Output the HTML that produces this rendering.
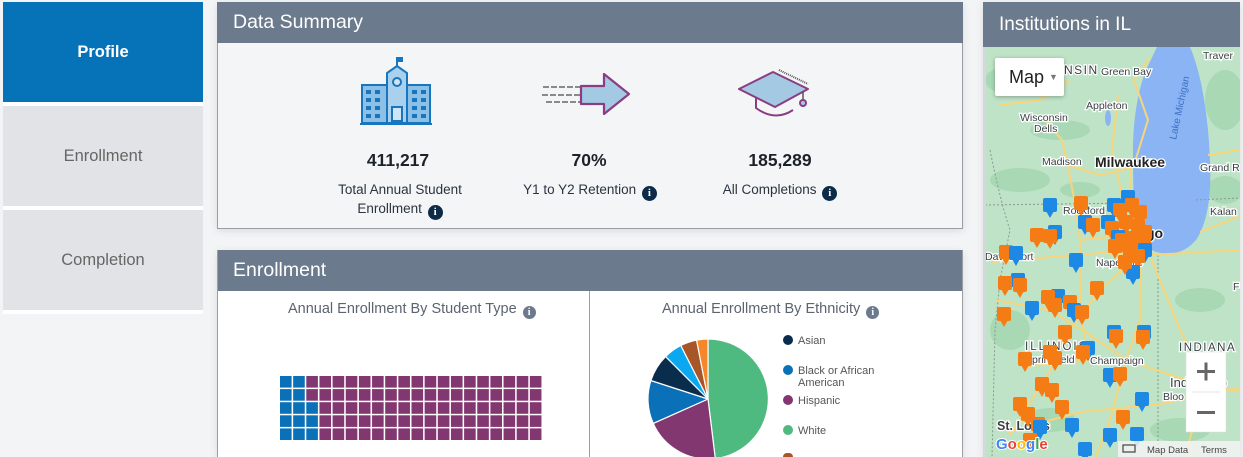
<!DOCTYPE html>
<html><head><meta charset="utf-8">
<style>
*{margin:0;padding:0;box-sizing:border-box}
html,body{width:1243px;height:457px;overflow:hidden;background:#f3f4f6;font-family:"Liberation Sans",sans-serif;position:relative}
.nav{position:absolute;left:3px;width:200px;height:100px;display:flex;align-items:center;justify-content:center;font-size:16.5px}
.panel{position:absolute;box-shadow:0 2px 8px rgba(0,0,0,0.10);overflow:hidden}
.hdr{background:#6b7a8c;color:#fff;font-size:19.5px;padding-left:16px;display:flex;align-items:center}
.num{position:absolute;font-size:17.5px;font-weight:bold;color:#1d2228;text-align:center;width:200px;margin-left:-100px}
.lbl{position:absolute;font-size:13.5px;color:#2b3440;text-align:center;width:200px;margin-left:-100px;line-height:19px}
.info{display:inline-block;width:15px;height:15px;border-radius:50%;background:#0d2b48;color:#fff;font-size:11px;font-weight:bold;line-height:15px;text-align:center;vertical-align:-2px;font-family:"Liberation Serif",serif;margin-left:2px}
.info.g{background:#6b7a8c;width:13px;height:13px;line-height:13px;font-size:10px}
.ctitle{position:absolute;font-size:14.5px;color:#5c6470;text-align:center}
.leg{position:absolute;font-size:11px;color:#555;line-height:12px}
.dot{position:absolute;width:10px;height:10px;border-radius:50%}
</style></head><body>

<!-- left nav -->
<div class="nav" style="top:2px;background:#0672b8;color:#fff;font-weight:bold">Profile</div>
<div style="position:absolute;left:3px;top:102px;width:200px;height:4px;background:#fff"></div>
<div class="nav" style="top:106px;background:#e1e3e6;color:#666">Enrollment</div>
<div style="position:absolute;left:3px;top:206px;width:200px;height:4px;background:#fff"></div>
<div class="nav" style="top:210px;background:#e1e3e6;color:#666">Completion</div>
<div style="position:absolute;left:3px;top:310px;width:200px;height:4px;background:#fff"></div>

<!-- Data summary -->
<div class="panel" style="left:217px;top:2px;width:746px;height:227px;background:#f4f5f7;border:1px solid #9a9ea4;border-top:none;overflow:visible">
  <div class="hdr" style="height:41px;margin-left:-1px;margin-right:-1px">Data Summary</div>
</div>
<svg style="position:absolute;left:0;top:0" width="963" height="230" viewBox="0 0 963 230">
  <!-- building -->
  <g stroke="#1776bd" stroke-width="2" fill="#9ccbea">
    <rect x="362" y="85" width="25" height="38" fill="#8cc0e6"/>
    <rect x="407" y="85" width="23" height="38" fill="#8cc0e6"/>
    <path d="M387,123 V73 L397,66 L407,73 V123 Z" fill="#a9d0ec"/>
    <circle cx="397" cy="82" r="4" fill="#cfe5f5"/>
    <rect x="392" y="107" width="10" height="14" fill="#cfe5f5"/>
    <line x1="360" y1="124" x2="432" y2="124"/>
  </g>
  <line x1="397" y1="66" x2="397" y2="57" stroke="#1776bd" stroke-width="2"/>
  <rect x="397" y="57" width="6" height="5" fill="#1776bd"/>
  <g fill="#1776bd">
    <rect x="366" y="90" width="5" height="4"/><rect x="375" y="90" width="5" height="4"/>
    <rect x="366" y="98" width="5" height="4"/><rect x="375" y="98" width="5" height="4"/>
    <rect x="366" y="106" width="5" height="4"/><rect x="375" y="106" width="5" height="4"/>
    <rect x="366" y="114" width="5" height="4"/><rect x="375" y="114" width="5" height="4"/>
    <rect x="412" y="90" width="5" height="4"/><rect x="421" y="90" width="5" height="4"/>
    <rect x="412" y="98" width="5" height="4"/><rect x="421" y="98" width="5" height="4"/>
    <rect x="412" y="106" width="5" height="4"/><rect x="421" y="106" width="5" height="4"/>
    <rect x="412" y="114" width="5" height="4"/><rect x="421" y="114" width="5" height="4"/>
  </g>
  <!-- arrow -->
  <g stroke="#666" stroke-width="1.6" stroke-dasharray="6,2">
    <line x1="543" y1="87" x2="580" y2="87"/>
    <line x1="542" y1="95" x2="580" y2="95"/>
    <line x1="546" y1="102" x2="580" y2="102"/>
  </g>
  <path d="M581,86 H604 V74 L629,94 L604,114 V104 H581 Z" fill="#a3c9e3" stroke="#8a3d82" stroke-width="2.2" stroke-linejoin="round"/>
  <!-- cap -->
  <line x1="779" y1="70" x2="808" y2="84" stroke="#555" stroke-width="2" stroke-dasharray="1,1"/>
  <path d="M756,97 V108 Q775,122 793,110" fill="none" stroke="#8a3d82" stroke-width="2"/>
  <path d="M739,89 L773,72 L808,89 L775,107 Z" fill="#a3c9e3" stroke="#8a3d82" stroke-width="2" stroke-linejoin="round"/>
  <line x1="803" y1="91" x2="803" y2="100" stroke="#555" stroke-width="1.5"/>
  <circle cx="803" cy="103" r="3" fill="#a3c9e3" stroke="#8a3d82" stroke-width="2"/>
</svg>
<div class="num" style="left:398px;top:150px">411,217</div>
<div class="lbl" style="left:400px;top:180px">Total Annual Student<br>Enrollment <span class="info">i</span></div>
<div class="num" style="left:589px;top:150px">70%</div>
<div class="lbl" style="left:590px;top:180px">Y1 to Y2 Retention <span class="info">i</span></div>
<div class="num" style="left:780px;top:150px">185,289</div>
<div class="lbl" style="left:780px;top:180px">All Completions <span class="info">i</span></div>

<!-- Enrollment -->
<div class="panel" style="left:217px;top:250px;width:746px;height:207px;background:#fff;border-left:1px solid #9a9ea4;border-right:1px solid #9a9ea4">
  <div class="hdr" style="height:41px;margin-left:-1px;margin-right:-1px">Enrollment</div>
</div>
<div style="position:absolute;left:589px;top:291px;width:1px;height:166px;background:#9a9ea4"></div>
<div class="ctitle" style="left:288px;top:301px;width:290px;text-align:left">Annual Enrollment By Student Type <span class="info g">i</span></div>
<div class="ctitle" style="left:662px;top:301px;width:240px;text-align:left">Annual Enrollment By Ethnicity <span class="info g">i</span></div>

<svg style="position:absolute;left:0;top:0" width="963" height="457" viewBox="0 0 963 457">
  <g id="waffle"></g>
  <!-- pie -->
  <g stroke="#fff" stroke-width="1.2" stroke-linejoin="round">
    <path d="M708,399 L708,339 A60,60 0 0 1 715.3,458.6 Z" fill="#4fba80"/>
    <path d="M708,399 L715.3,458.6 A60,60 0 0 1 653.2,423.4 Z" fill="#833771"/>
    <path d="M708,399 L653.2,423.4 A60,60 0 0 1 650.9,380.5 Z" fill="#0a71b8"/>
    <path d="M708,399 L650.9,380.5 A60,60 0 0 1 665.6,356.6 Z" fill="#0b2d4d"/>
    <path d="M708,399 L665.6,356.6 A60,60 0 0 1 680.8,345.5 Z" fill="#0aa8f0"/>
    <path d="M708,399 L680.8,345.5 A60,60 0 0 1 696.6,340.1 Z" fill="#a65628"/>
    <path d="M708,399 L696.6,340.1 A60,60 0 0 1 708,339 Z" fill="#f5862a"/>
  </g>
</svg>
<div class="dot" style="left:783px;top:335px;background:#0b2d4d"></div>
<div class="leg" style="left:798px;top:335px">Asian</div>
<div class="dot" style="left:783px;top:365px;background:#0a71b8"></div>
<div class="leg" style="left:798px;top:365px">Black or African<br>American</div>
<div class="dot" style="left:783px;top:395px;background:#833771"></div>
<div class="leg" style="left:798px;top:395px">Hispanic</div>
<div class="dot" style="left:783px;top:425px;background:#4fba80"></div>
<div class="leg" style="left:798px;top:425px">White</div>
<div style="position:absolute;left:783px;top:453px;width:10px;height:4px;border-radius:5px 5px 0 0;background:#a65628"></div>

<!-- Map panel -->
<div class="panel" style="left:983px;top:2px;width:257px;height:455px;background:#bfe3c7">
  <div class="hdr" style="height:45px;font-size:19px">Institutions in IL</div>
</div>
<svg style="position:absolute;left:983px;top:47px" width="257" height="410" viewBox="983 47 257 410">
  <defs>
    <g id="po"><rect x="-7" y="-7" width="14" height="14" rx="2" fill="#f57c14"/><polygon points="-4,6 4,6 0,13" fill="#f57c14"/></g>
    <g id="pb"><rect x="-7" y="-7" width="14" height="14" rx="2" fill="#1e88e5"/><polygon points="-4,6 4,6 0,13" fill="#1e88e5"/></g>
  </defs>
  <rect x="983" y="47" width="257" height="410" fill="#bfe3c7"/>
  <g fill="#a9d8b4">
    <ellipse cx="1010" cy="80" rx="25" ry="14"/>
    <ellipse cx="1060" cy="130" rx="30" ry="10"/>
    <ellipse cx="1020" cy="180" rx="30" ry="12"/>
    <ellipse cx="1080" cy="190" rx="20" ry="8"/>
    <ellipse cx="1225" cy="100" rx="20" ry="30"/>
    <ellipse cx="1225" cy="190" rx="18" ry="14"/>
    <ellipse cx="1010" cy="330" rx="20" ry="20"/>
    <ellipse cx="1200" cy="300" rx="25" ry="12"/>
    <ellipse cx="1050" cy="420" rx="25" ry="12"/>
    <ellipse cx="1180" cy="430" rx="30" ry="12"/>
  </g>
  <!-- lake -->
  <path d="M1157,47 L1190,47 C1200,70 1208,110 1210,160 C1212,200 1206,225 1196,240 C1186,252 1172,256 1156,252 C1146,248 1139,240 1136,225 C1133,200 1133,170 1133,150 C1133,120 1138,90 1146,70 Z" fill="#8ab4f4"/>
  <ellipse cx="1108" cy="118" rx="3" ry="8" fill="#8ab4f4"/>
  <!-- borders -->
  <g stroke="#8a9a90" stroke-width="1" stroke-dasharray="2,2" fill="none">
    <path d="M985,205 L1133,203"/>
    <path d="M1158,255 L1158,457"/>
    <path d="M1196,200 L1240,198"/>
    <path d="M990,150 Q1000,200 1010,230 L1000,280 L995,330 L992,457"/>
  </g>
  <!-- roads -->
  <g stroke="#f6d57b" stroke-width="2" fill="none" stroke-linejoin="round">
    <path d="M1131,165 L1131,200 L1142,245"/>
    <path d="M1068,165 L1100,175 L1131,168"/>
    <path d="M1150,58 L1134,80 L1148,120 L1133,168"/>
    <path d="M1118,95 L1112,150 L1122,195"/>
    <path d="M1045,120 L1062,140 L1068,165"/>
    <path d="M1068,165 L1076,210 L1080,240"/>
    <path d="M1080,240 L1118,236 L1145,242"/>
    <path d="M992,262 L1050,257 L1100,253 L1150,255 L1240,250"/>
    <path d="M1080,240 L1080,300 L1085,340"/>
    <path d="M1145,250 L1100,290 L1062,340 L1055,362 L1032,400 L1010,435"/>
    <path d="M1140,250 L1140,320 L1126,360 L1110,420 L1096,457"/>
    <path d="M995,300 L1050,310 L1090,335 L1126,360 L1180,378 L1240,392"/>
    <path d="M1028,366 L1090,360"/>
    <path d="M1008,432 L1080,412 L1160,404 L1240,388"/>
    <path d="M1150,255 L1180,330 L1205,380"/>
    <path d="M1208,155 L1240,150"/>
    <path d="M1200,232 L1240,216"/>
    <path d="M1185,457 L1195,420 L1205,380"/>
    <path d="M1000,105 L1040,100 L1070,80"/>
  </g>
  <!-- labels -->
  <g font-family="Liberation Sans,sans-serif" fill="#3a3f44" stroke="#fff" stroke-width="2.5" paint-order="stroke" font-size="10.5">
    <text x="1064" y="74" font-size="12" letter-spacing="1.5">NSIN</text>
    <text x="1101" y="75">Green Bay</text>
    <text x="1086" y="109">Appleton</text>
    <text x="1020" y="121">Wisconsin</text>
    <text x="1034" y="132">Dells</text>
    <text x="1042" y="165">Madison</text>
    <text x="1095" y="167" font-size="14" font-weight="bold" fill="#222">Milwaukee</text>
    <text x="1200" y="171">Grand R</text>
    <text x="1203" y="59">Traver</text>
    <text x="1063" y="214">Rockford</text>
    <text x="1210" y="215">Kalan</text>
    <text x="985" y="260">Davenport</text>
    <text x="1096" y="266">Naperville</text>
    <text x="1146" y="238" font-size="14" font-weight="bold" fill="#222">go</text>
    <text x="1025" y="350" font-size="11.5" letter-spacing="2">ILLINOIS</text>
    <text x="1025" y="363">Springfield</text>
    <text x="1090" y="364">Champaign</text>
    <text x="1179" y="351" font-size="11.5" letter-spacing="1.5">INDIANA</text>
    <text x="1170" y="387" font-size="13">Indianapo</text>
    <text x="1163" y="400">Bloo</text>
    <text x="997" y="430" font-size="12.5" font-weight="bold">St. Louis</text>
    <text x="1233" y="290">F</text>
  </g>
  <text x="1176" y="140" transform="rotate(-78 1176 140)" font-family="Liberation Sans,sans-serif" font-size="10" fill="#3b6fc4">Lake Michigan</text>
  <!-- markers -->
  <g>
    <use href="#pb" x="1050" y="205"/>
    <use href="#po" x="1081" y="203"/>
    <use href="#pb" x="1085" y="222"/>
    <use href="#po" x="1093" y="225"/>
    <use href="#pb" x="1114" y="205"/>
    <use href="#pb" x="1128" y="197"/>
    <use href="#po" x="1120" y="210"/>
    <use href="#po" x="1132" y="205"/>
    <use href="#po" x="1140" y="212"/>
    <use href="#pb" x="1108" y="222"/>
    <use href="#po" x="1112" y="228"/>
    <use href="#po" x="1126" y="222"/>
    <use href="#po" x="1138" y="226"/>
    <use href="#po" x="1145" y="232"/>
    <use href="#pb" x="1118" y="237"/>
    <use href="#po" x="1122" y="240"/>
    <use href="#po" x="1134" y="238"/>
    <use href="#po" x="1144" y="244"/>
    <use href="#pb" x="1145" y="250"/>
    <use href="#po" x="1130" y="250"/>
    <use href="#po" x="1115" y="246"/>
    <use href="#po" x="1138" y="256"/>
    <use href="#pb" x="1133" y="272"/>
    <use href="#po" x="1125" y="262"/>
    <use href="#pb" x="1055" y="232"/>
    <use href="#po" x="1037" y="235"/>
    <use href="#po" x="1050" y="236"/>
    <use href="#po" x="1006" y="252"/>
    <use href="#pb" x="1016" y="253"/>
    <use href="#pb" x="1076" y="260"/>
    <use href="#po" x="1097" y="288"/>
    <use href="#pb" x="1018" y="280"/>
    <use href="#po" x="1005" y="283"/>
    <use href="#po" x="1020" y="285"/>
    <use href="#po" x="1004" y="314"/>
    <use href="#pb" x="1032" y="308"/>
    <use href="#pb" x="1058" y="296"/>
    <use href="#po" x="1048" y="297"/>
    <use href="#po" x="1055" y="305"/>
    <use href="#po" x="1070" y="302"/>
    <use href="#pb" x="1074" y="310"/>
    <use href="#po" x="1082" y="312"/>
    <use href="#po" x="1065" y="332"/>
    <use href="#pb" x="1114" y="332"/>
    <use href="#po" x="1116" y="336"/>
    <use href="#pb" x="1144" y="332"/>
    <use href="#po" x="1143" y="337"/>
    <use href="#pb" x="1088" y="348"/>
    <use href="#po" x="1083" y="352"/>
    <use href="#po" x="1025" y="359"/>
    <use href="#po" x="1050" y="352"/>
    <use href="#po" x="1055" y="358"/>
    <use href="#pb" x="1110" y="375"/>
    <use href="#po" x="1120" y="374"/>
    <use href="#po" x="1042" y="384"/>
    <use href="#po" x="1052" y="390"/>
    <use href="#pb" x="1142" y="399"/>
    <use href="#po" x="1062" y="407"/>
    <use href="#po" x="1020" y="404"/>
    <use href="#po" x="1028" y="414"/>
    <use href="#po" x="1038" y="424"/>
    <use href="#pb" x="1040" y="427"/>
    <use href="#pb" x="1072" y="425"/>
    <use href="#po" x="1123" y="417"/>
    <use href="#pb" x="1110" y="435"/>
    <use href="#pb" x="1137" y="434"/>
    <use href="#pb" x="1085" y="449"/>
    <use href="#po" x="1030" y="440"/>
  </g>
  <!-- google logo -->
  <text x="996" y="449" font-family="Liberation Sans,sans-serif" font-size="15" font-weight="bold" stroke="#fff" stroke-width="2" paint-order="stroke"><tspan fill="#4285f4">G</tspan><tspan fill="#ea4335">o</tspan><tspan fill="#fbbc05">o</tspan><tspan fill="#4285f4">g</tspan><tspan fill="#34a853">l</tspan><tspan fill="#ea4335">e</tspan></text>
  <rect x="1118" y="441" width="122" height="16" fill="#f3f3f3" opacity="0.85"/>
  <rect x="1123" y="445" width="12" height="7" fill="none" stroke="#444" stroke-width="1.2"/>
  <text x="1147" y="453" font-family="Liberation Sans,sans-serif" font-size="9.5" fill="#444">Map Data</text>
  <text x="1201" y="453" font-family="Liberation Sans,sans-serif" font-size="9.5" fill="#444">Terms</text>
  <!-- zoom control -->
  <rect x="1186" y="352" width="40" height="80" fill="#fff" stroke="#ddd" stroke-width="0.5"/>
  <line x1="1192" y1="392" x2="1220" y2="392" stroke="#e6e6e6"/>
  <rect x="1197" y="370" width="18" height="3" fill="#666"/>
  <rect x="1204.5" y="362.5" width="3" height="18" fill="#666"/>
  <rect x="1197" y="411" width="18" height="3" fill="#666"/>
</svg>
<!-- Map button -->
<div style="position:absolute;left:995px;top:58px;width:69px;height:38px;background:#fff;border-radius:2px;box-shadow:0 1px 4px rgba(0,0,0,0.3);font-size:18px;color:#222;display:flex;align-items:center;padding-left:14px">Map<span style="font-size:9px;color:#777;margin-left:5px">▼</span></div>
<div style="position:absolute;left:983px;top:47px;width:3px;height:410px;background:#d4d8dc"></div>

<script>
(function(){
  var g=document.getElementById('waffle'),s='';
  for(var c=0;c<20;c++){for(var r=0;r<5;r++){
    var blue=(c<2)||(c==2&&r>=2);
    var x=280+c*13.15,y=376+r*13.1;
    s+='<rect x="'+x.toFixed(2)+'" y="'+y.toFixed(2)+'" width="11.6" height="11.6" fill="'+(blue?'#0a71b8':'#833771')+'"/>';
  }}
  g.innerHTML=s;
})();
</script>
</body></html>
